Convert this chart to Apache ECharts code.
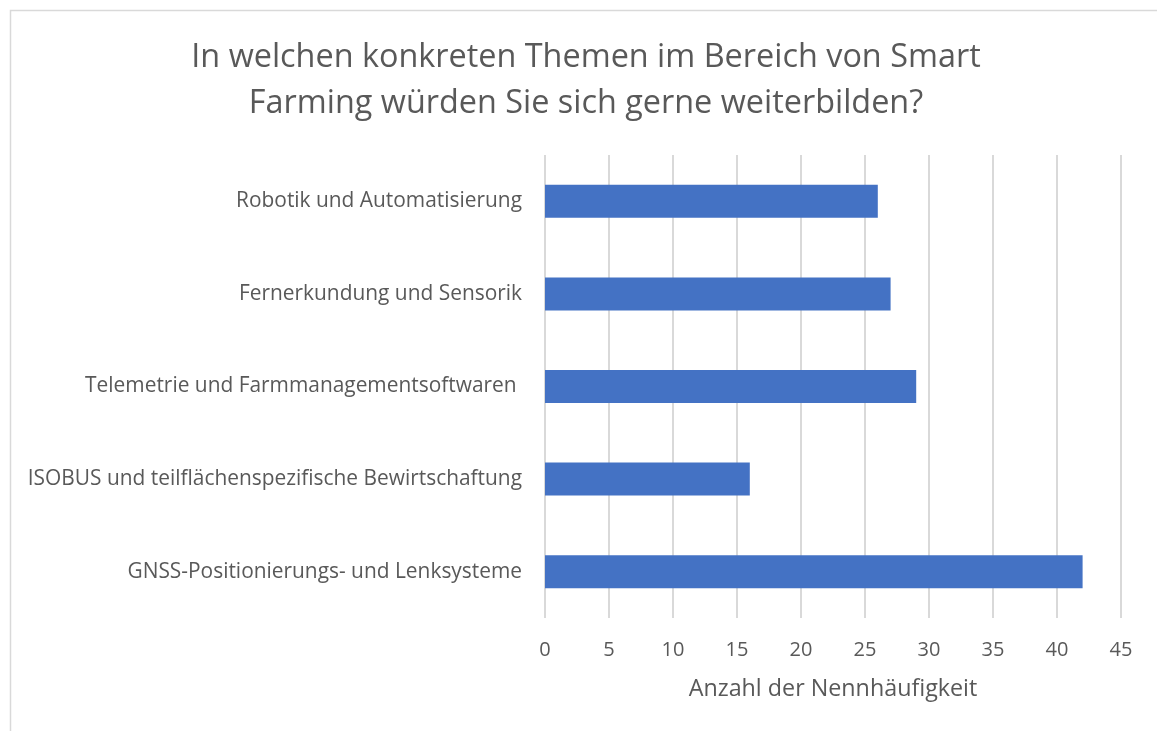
<!DOCTYPE html>
<html><head><meta charset="utf-8">
<script src="https://cdn.jsdelivr.net/npm/echarts@6/dist/echarts.min.js"></script>
<style>html,body{margin:0;padding:0;background:#fff}#c{width:1157px;height:731px}</style>
</head><body><div id="c"></div>
<script>
const categories = ["Robotik und Automatisierung","Fernerkundung und Sensorik","Telemetrie und Farmmanagementsoftwaren ","ISOBUS und teilflächenspezifische Bewirtschaftung","GNSS-Positionierungs- und Lenksysteme"];
const values = [26, 27, 29, 16, 42];
const titleText = "In welchen konkreten Themen im Bereich von Smart\nFarming würden Sie sich gerne weiterbilden?";
const axisName = "Anzahl der Nennhäufigkeit";
const FONT = "Open Sans";
const chart = echarts.init(document.getElementById('c'));
chart.setOption({
  backgroundColor: '#fff',
  animation: false,
  graphic: [{type:'rect', shape:{x:10.5,y:10.5,width:1160,height:740}, style:{fill:'none', stroke:'#d9d9d9', lineWidth:1.5}, silent:true}],
  title: {text:titleText, left:581, textAlign:'center', top:30, textStyle:{fontFamily:FONT, fontSize:32.4, fontWeight:'normal', color:'#595959', lineHeight:46}},
  grid: {left:545, right:36, top:155, bottom:113, containLabel:false},
  xAxis: {type:'value', min:0, max:45, interval:5,
    name:axisName, nameLocation:'middle', nameGap:60, nameTextStyle:{fontFamily:FONT, fontSize:23.3, color:'#595959'},
    axisLine:{show:false}, axisTick:{show:false},
    axisLabel:{fontFamily:FONT, fontSize:20, color:'#595959', margin:22},
    splitLine:{lineStyle:{color:'#d9d9d9', width:2}}},
  yAxis: {type:'category', data:categories, inverse:true,
    axisLine:{show:false}, axisTick:{show:false},
    axisLabel:{fontFamily:FONT, fontSize:20.9, color:'#595959', margin:23}},
  series: [{type:'bar', data:values, barWidth:33, itemStyle:{color:'#4472C4'}}]
});
</script></body></html>
